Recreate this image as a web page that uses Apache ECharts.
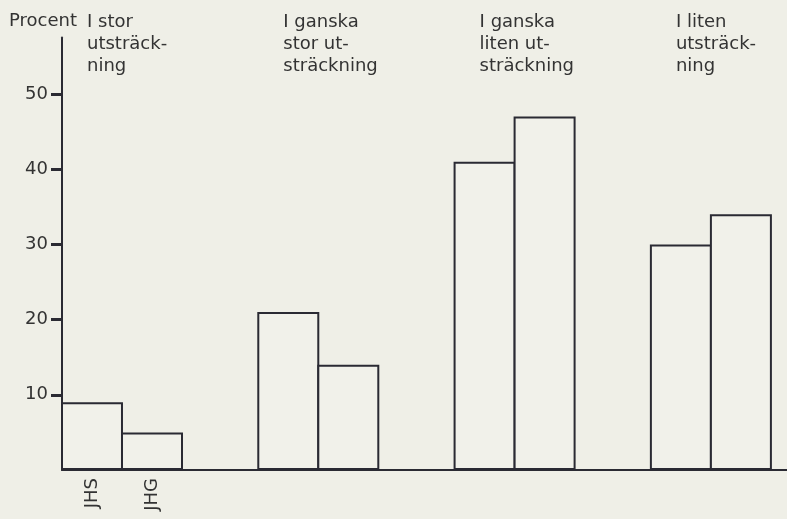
<!DOCTYPE html>
<html>
<head>
<meta charset="utf-8">
<script src="https://cdn.jsdelivr.net/npm/echarts@6/dist/echarts.min.js"></script>
<style>
html,body{margin:0;padding:0;background:#efefe7;}
#chart{width:787px;height:519px;}
</style>
</head>
<body>
<div id="chart"></div>
<script>
const categories = ['I stor\nutsträck-\nning', 'I ganska\nstor ut-\nsträckning', 'I ganska\nliten ut-\nsträckning', 'I liten\nutsträck-\nning'];
const seriesNames = ['JHS', 'JHG'];
const jhsValues = [9, 21, 41, 30];
const jhgValues = [5, 14, 47, 34];
const yTicks = [10, 20, 30, 40, 50];
const yAxisTitle = 'Procent';

const ink = '#2a2a33';
const font = 'DejaVu Sans';

function withLabelOnFirst(vals) {
  return vals.map((v, i) => i === 0 ? { value: v, label: { show: true } } : v);
}

const barStyle = { color: '#f1f1ea', borderColor: ink, borderWidth: 2 };
const barLabel = {
  show: false, position: 'bottom', distance: 8, rotate: 90,
  align: 'right', verticalAlign: 'middle', formatter: '{a}',
  fontFamily: font, fontSize: 18, color: '#333'
};

const chart = echarts.init(document.getElementById('chart'));
chart.setOption({
  backgroundColor: '#efefe7',
  animation: false,
  title: {
    text: yAxisTitle, left: 9, top: 12, padding: 0,
    textStyle: { fontFamily: font, fontSize: 18, fontWeight: 'normal', color: '#333' }
  },
  grid: { left: 62, right: -60.2, top: 37.6, bottom: 49, containLabel: false, outerBoundsMode: 'none' },
  xAxis: [
    {
      type: 'category', data: categories, position: 'bottom',
      axisLine: { lineStyle: { color: ink, width: 2 } },
      axisTick: { show: false }, axisLabel: { show: false }
    },
    {
      type: 'category', data: categories.concat(['']), position: 'top', boundaryGap: false,
      axisLine: { show: false }, axisTick: { show: false },
      axisLabel: {
        show: true, interval: 0, align: 'left', verticalAlign: 'top', margin: 26,
        padding: [0, 0, 0, 25], lineHeight: 22,
        fontFamily: font, fontSize: 18, color: '#333'
      }
    }
  ],
  yAxis: {
    type: 'value', min: 0, max: 57.5, interval: 10,
    axisLine: { show: true, lineStyle: { color: ink, width: 2 } },
    axisTick: { show: true, length: 11, customValues: yTicks, lineStyle: { color: ink, width: 3 } },
    axisLabel: { show: true, margin: 14, customValues: yTicks, fontFamily: font, fontSize: 18, color: '#333' },
    splitLine: { show: false }
  },
  series: [
    { name: seriesNames[0], type: 'bar', xAxisIndex: 0, barWidth: 62, barGap: '-3.2%',
      data: withLabelOnFirst(jhsValues), itemStyle: barStyle, label: barLabel },
    { name: seriesNames[1], type: 'bar', xAxisIndex: 0, barWidth: 62, barGap: '-3.2%',
      data: withLabelOnFirst(jhgValues), itemStyle: barStyle, label: barLabel },
    { name: '', type: 'bar', xAxisIndex: 0, barWidth: 78.3, barGap: '-3.2%', data: [], silent: true }
  ]
});
</script>
</body>
</html>
